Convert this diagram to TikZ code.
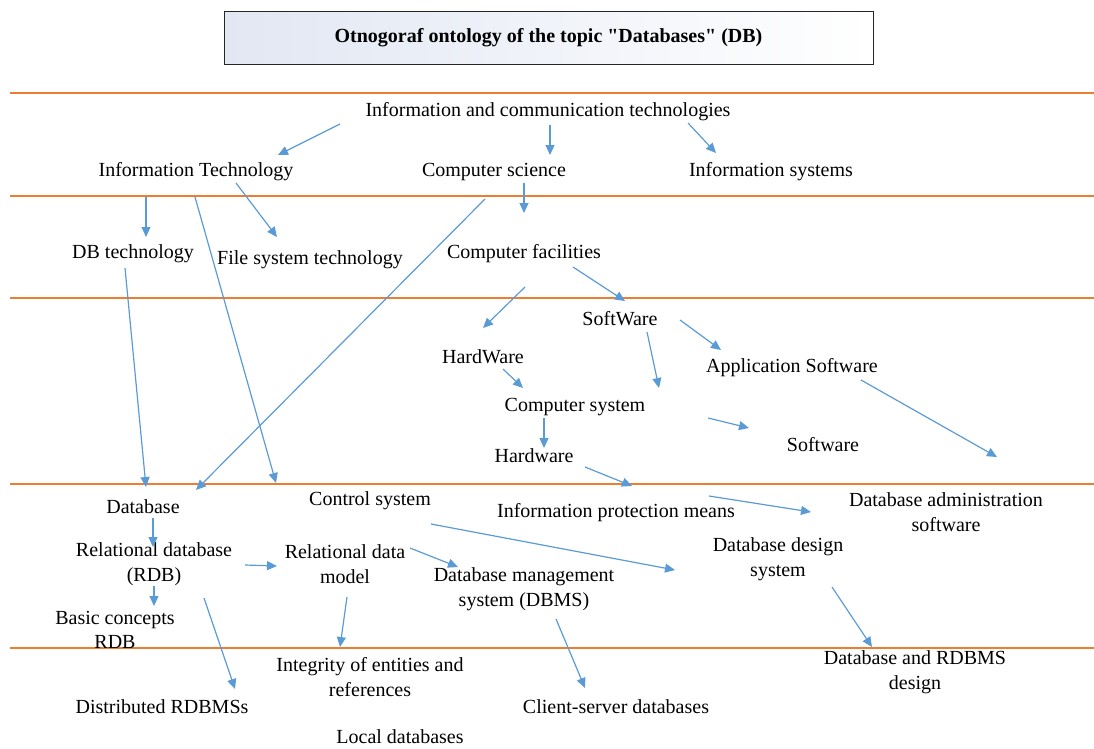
\documentclass[tikz,border=0pt]{standalone}
\usepackage{fontspec}
\setmainfont{Liberation Serif}
\usepackage{xcolor}
\usepackage{tikz}
\usetikzlibrary{arrows.meta}
\definecolor{bandline}{HTML}{ED7D31}
\definecolor{linkblue}{HTML}{5B9BD5}
\definecolor{titlefill}{HTML}{E2E7F3}
\begin{document}
\begin{tikzpicture}[x=1pt,y=-1pt,
  lbl/.style={align=center,inner sep=0pt,yshift=-2pt,font=\fontsize{20}{24.5}\selectfont},
  arr/.style={linkblue,line width=1.2pt,-{Triangle[length=10pt,width=9pt]}}]
  \useasboundingbox (0,0) rectangle (1094,748);
  \node[draw=black!85,line width=1pt,left color=titlefill,right color=white,
    minimum width=649pt,minimum height=53pt,inner sep=0pt,
    font=\fontsize{20}{24}\selectfont\bfseries] (title) at (548.5,37.5)
    {Otnogoraf ontology of the topic \textquotedbl Databases\textquotedbl{} (DB)};
  \foreach \y in {93,196,298,484,648} {
    \draw[bandline,line width=1.3pt] (10,\y) -- (1094,\y);
  }
  \node[lbl] (ict) at (548,110) {Information and communication technologies};
  \node[lbl] (it) at (196,170) {Information Technology};
  \node[lbl] (cs) at (494,170) {Computer science};
  \node[lbl] (is) at (771,170) {Information systems};
  \node[lbl] (dbtech) at (133,252) {DB technology};
  \node[lbl] (fst) at (310,258) {File system technology};
  \node[lbl] (cf) at (524,252) {Computer facilities};
  \node[lbl] (sw) at (620,317) {SoftWare};
  \node[lbl] (hw) at (483,355) {HardWare};
  \node[lbl] (app) at (792,366) {Application Software};
  \node[lbl] (csys) at (575,405) {Computer system};
  \node[lbl] (soft) at (823,443) {Software};
  \node[lbl] (hard) at (534,454) {Hardware};
  \node[lbl] (db) at (143,505) {Database};
  \node[lbl] (ctrl) at (370,499) {Control system};
  \node[lbl] (ipm) at (616,511) {Information protection means};
  \node[lbl] (dbas) at (946,510) {Database administration\\software};
  \node[lbl] (rdb) at (154,562) {Relational database\\(RDB)};
  \node[lbl] (rdm) at (345,562) {Relational data\\model};
  \node[lbl] (dbms) at (524,587) {Database management\\system (DBMS)};
  \node[lbl] (dds) at (778,557) {Database design\\system};
  \node[lbl] (bc) at (115,628) {Basic concepts\\RDB};
  \node[lbl] (ier) at (370,675) {Integrity of entities and\\references};
  \node[lbl] (drdb) at (162,705) {Distributed RDBMSs};
  \node[lbl] (csdb) at (616,705) {Client-server databases};
  \node[lbl] (ddes) at (915,670) {Database and RDBMS\\design};
  \node[lbl,text depth=0pt] (local) at (400,735) {Local databases};
  \foreach \n/\x/\y in {ict-o1/340/124, it-i/278/155, ict-o2/550/125, cs-i/550/155,
      ict-o3/688/123, is-i/716/153, it-o1/146/197, dbtech-i/146/237,
      it-o2/236/183, fst-i/277/237, it-o3/195/197, ctrl-i/276/483,
      cs-o1/485/199, db-i1/196/490, cs-o2/524/183, cf-i/524/213,
      dbtech-o/125/268, db-i2/146/487, cf-o1/573/267, sw-i/625/301,
      cf-o2/525/287, hw-i/483/328, sw-o1/647/332, csys-i1/659/388,
      sw-o2/680/320, app-i/721/350, hw-o/503/369, csys-i2/523/388,
      csys-o1/544/418, hard-i/544/448, csys-o2/708/418, soft-i/749/428,
      app-o/861/380, dbas-i1/997/457, hard-o/585/467, ipm-i/632/486,
      ipm-o/709/496, dbas-i2/811/512, ctrl-o/431/524, dds-i/675/570,
      db-o/153/518, rdb-i/153/547, rdb-o1/245/565, rdm-i/277/566,
      rdb-o2/154/586, bc-i/154/606, rdb-o3/204/598, drdb-i/235/689,
      rdm-o1/347/597, ier-i/340/647, rdm-o2/410/548, dbms-i/458/567,
      dbms-o/556/619, csdb-i/585/688, dds-o/832/587, ddes-i/872/647} {
    \coordinate (\n) at (\x,\y);
  }
  \foreach \a/\b in {ict-o1/it-i, ict-o2/cs-i, ict-o3/is-i, it-o1/dbtech-i,
      it-o2/fst-i, it-o3/ctrl-i, cs-o1/db-i1, cs-o2/cf-i, dbtech-o/db-i2,
      cf-o1/sw-i, cf-o2/hw-i, sw-o1/csys-i1, sw-o2/app-i, hw-o/csys-i2,
      csys-o1/hard-i, csys-o2/soft-i, app-o/dbas-i1, hard-o/ipm-i,
      ipm-o/dbas-i2, ctrl-o/dds-i, db-o/rdb-i, rdb-o1/rdm-i, rdb-o2/bc-i,
      rdb-o3/drdb-i, rdm-o1/ier-i, rdm-o2/dbms-i, dbms-o/csdb-i, dds-o/ddes-i} {
    \draw[arr] (\a) -- (\b);
  }
\end{tikzpicture}
\end{document}
